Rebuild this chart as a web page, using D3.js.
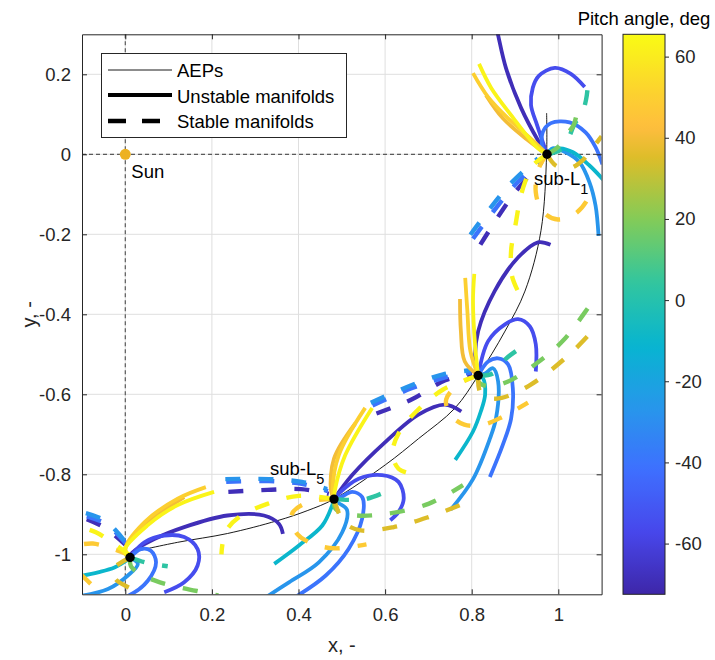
<!DOCTYPE html>
<html>
<head>
<meta charset="utf-8">
<script src="https://cdn.jsdelivr.net/npm/d3@7"></script>
<style>
  html, body { margin: 0; padding: 0; background: #fff; }
  svg { display: block; font-family: "Liberation Sans", Arial, Helvetica, sans-serif; }
</style>
</head>
<body>
<svg id="chart" width="715" height="660"></svg>
<script>
// ---------- data ----------
// family of artificial equilibrium points (thin black curve)
const aepX = [0.012, 0.121, 0.236, 0.351, 0.420, 0.482, 0.601, 0.677, 0.761, 0.815, 0.877, 0.923, 0.960, 0.973, 0.973];
const aepY = [-0.995, -0.970, -0.948, -0.916, -0.891, -0.862, -0.776, -0.711, -0.635, -0.553, -0.442, -0.342, -0.191, 0.000, 0.103];

// highlighted equilibrium points
const eqX = [0.974, 0.815, 0.482, 0.011];
const eqY = [0.000, -0.553, -0.862, -1.008];

const sunX = 0, sunY = 0;

// manifolds: p = pitch angle (deg), pts = [x, y]
const unstableL1 = [
  {p: -69, pts: [[0.974,0.000],[0.953,0.035],[0.914,0.116],[0.879,0.216],[0.859,0.307],[0.852,0.337]]},
  {p: -55, pts: [[0.974,0.000],[0.951,0.073],[0.937,0.123],[0.941,0.166],[0.955,0.196],[0.992,0.216],[1.029,0.201],[1.061,0.168]]},
  {p: -40, pts: [[0.974,0.000],[0.964,0.015],[0.964,0.055],[0.983,0.078],[1.026,0.080],[1.063,0.055],[1.086,0.018],[1.102,-0.025]]},
  {p: -27, pts: [[0.974,0.000],[0.987,0.015],[1.017,0.005],[1.049,-0.020],[1.072,-0.070],[1.086,-0.128],[1.093,-0.204]]},
  {p: -10, pts: [[0.974,0.000],[0.984,0.010],[1.004,0.015],[1.034,0.005],[1.072,-0.028],[1.105,-0.065]]},
  {p: 40,  pts: [[0.974,0.000],[0.930,0.035],[0.872,0.090],[0.833,0.148]]},
  {p: 50,  pts: [[0.974,0.000],[0.941,0.035],[0.884,0.090],[0.838,0.143],[0.803,0.203]]},
  {p: 63,  pts: [[0.974,0.000],[0.953,0.015],[0.891,0.098],[0.845,0.166],[0.817,0.226]]}
];
const stableL1 = [
  {p: 18,  pts: [[0.974,0.000],[0.999,0.018],[1.024,0.055],[1.036,0.075],[1.045,0.116],[1.047,0.136]]},
  {p: 3,   pts: [[0.974,0.000],[1.010,0.015],[1.040,0.080],[1.052,0.093],[1.064,0.136],[1.068,0.168]]},
  {p: 35,  pts: [[0.974,0.000],[0.994,-0.028],[1.026,-0.035],[1.056,-0.015],[1.075,0.010],[1.100,0.045]]},
  {p: 48,  pts: [[0.974,0.000],[0.955,-0.035],[0.948,-0.095],[0.964,-0.143],[0.999,-0.163],[1.040,-0.148],[1.070,-0.108],[1.077,-0.078]]},
  {p: 63,  pts: [[0.974,0.000],[0.941,-0.028],[0.923,-0.070],[0.911,-0.116],[0.902,-0.171],[0.891,-0.241],[0.893,-0.304],[0.909,-0.347]]},
  {p: -27, pts: [[0.797,-0.201],[0.884,-0.080],[0.953,-0.010]]},
  {p: -40, pts: [[0.803,-0.211],[0.889,-0.090],[0.957,-0.015]]},
  {p: -69, pts: [[0.820,-0.226],[0.898,-0.098],[0.962,-0.020]]}
];

const unstableL2 = [
  {p: -69, pts: [[0.815,-0.553],[0.808,-0.510],[0.815,-0.442],[0.853,-0.342],[0.907,-0.258],[0.953,-0.220],[0.982,-0.226]]},
  {p: -55, pts: [[0.815,-0.553],[0.838,-0.467],[0.877,-0.425],[0.907,-0.412],[0.934,-0.430],[0.948,-0.475],[0.948,-0.543]]},
  {p: -40, pts: [[0.815,-0.553],[0.838,-0.518],[0.861,-0.510],[0.884,-0.525],[0.895,-0.585],[0.891,-0.661],[0.872,-0.726],[0.842,-0.807]]},
  {p: -27, pts: [[0.815,-0.553],[0.831,-0.548],[0.849,-0.535],[0.861,-0.568],[0.856,-0.661],[0.842,-0.711],[0.803,-0.812],[0.751,-0.889]]},
  {p: -10, pts: [[0.815,-0.553],[0.826,-0.560],[0.831,-0.601],[0.821,-0.643],[0.803,-0.693],[0.762,-0.764]]},
  {p: 40,  pts: [[0.815,-0.553],[0.784,-0.518],[0.775,-0.442],[0.773,-0.362]]},
  {p: 50,  pts: [[0.815,-0.553],[0.797,-0.492],[0.790,-0.392],[0.785,-0.309]]},
  {p: 63,  pts: [[0.815,-0.553],[0.808,-0.480],[0.803,-0.367],[0.806,-0.299]]}
];
const stableL2 = [
  {p: 18,  pts: [[0.815,-0.553],[0.815,-0.568],[0.838,-0.580],[0.884,-0.568],[0.953,-0.520],[1.010,-0.467],[1.072,-0.379],[1.091,-0.349]]},
  {p: 3,   pts: [[0.815,-0.553],[0.849,-0.548],[0.877,-0.513],[0.902,-0.492]]},
  {p: 35,  pts: [[0.815,-0.553],[0.821,-0.598],[0.856,-0.611],[0.930,-0.580],[1.029,-0.497],[1.091,-0.427]]},
  {p: 48,  pts: [[0.815,-0.553],[0.773,-0.573],[0.741,-0.613],[0.751,-0.651],[0.783,-0.676],[0.826,-0.676],[0.872,-0.656],[0.930,-0.621]]},
  {p: 63,  pts: [[0.815,-0.553],[0.734,-0.588],[0.672,-0.643],[0.631,-0.698],[0.617,-0.749],[0.631,-0.786],[0.661,-0.799]]},
  {p: -27, pts: [[0.567,-0.621],[0.659,-0.578],[0.734,-0.550],[0.797,-0.540]]},
  {p: -40, pts: [[0.571,-0.628],[0.661,-0.585],[0.737,-0.558],[0.799,-0.545]]},
  {p: -69, pts: [[0.580,-0.648],[0.661,-0.613],[0.739,-0.565],[0.801,-0.550]]}
];

const unstableL5 = [
  {p: -69, pts: [[0.482,-0.862],[0.524,-0.802],[0.601,-0.719],[0.677,-0.651],[0.738,-0.626],[0.776,-0.643]]},
  {p: -55, pts: [[0.482,-0.862],[0.493,-0.848],[0.539,-0.811],[0.593,-0.802],[0.631,-0.819],[0.643,-0.861],[0.631,-0.894],[0.612,-0.915]]},
  {p: -40, pts: [[0.482,-0.862],[0.498,-0.857],[0.524,-0.844],[0.547,-0.857],[0.547,-0.911],[0.516,-0.986],[0.463,-1.053],[0.397,-1.104]]},
  {p: -27, pts: [[0.482,-0.862],[0.493,-0.872],[0.512,-0.889],[0.501,-0.945],[0.447,-1.020],[0.378,-1.070],[0.324,-1.108]]},
  {p: -10, pts: [[0.482,-0.862],[0.478,-0.877],[0.455,-0.928],[0.401,-0.978],[0.344,-1.024]]},
  {p: 40,  pts: [[0.482,-0.862],[0.475,-0.840],[0.482,-0.761],[0.531,-0.673]]},
  {p: 50,  pts: [[0.482,-0.862],[0.479,-0.840],[0.493,-0.752],[0.554,-0.634]]},
  {p: 63,  pts: [[0.482,-0.862],[0.484,-0.840],[0.508,-0.752],[0.570,-0.634]]}
];
const stableL5 = [
  {p: 18,  pts: [[0.482,-0.862],[0.486,-0.887],[0.527,-0.902],[0.603,-0.899],[0.700,-0.874],[0.780,-0.827]]},
  {p: 3,   pts: [[0.482,-0.862],[0.516,-0.864],[0.555,-0.862],[0.590,-0.849]]},
  {p: 35,  pts: [[0.482,-0.862],[0.505,-0.920],[0.544,-0.940],[0.620,-0.932],[0.700,-0.907],[0.780,-0.874]]},
  {p: 48,  pts: [[0.482,-0.862],[0.424,-0.869],[0.385,-0.899],[0.394,-0.945],[0.429,-0.972],[0.482,-0.985],[0.557,-0.975]]},
  {p: 63,  pts: [[0.482,-0.862],[0.401,-0.854],[0.328,-0.874],[0.263,-0.907],[0.231,-0.945],[0.222,-1.000]]},
  {p: -27, pts: [[0.231,-0.812],[0.332,-0.812],[0.408,-0.819],[0.466,-0.837]]},
  {p: -40, pts: [[0.233,-0.819],[0.332,-0.817],[0.408,-0.824],[0.468,-0.842]]},
  {p: -69, pts: [[0.238,-0.844],[0.328,-0.839],[0.406,-0.837],[0.470,-0.849]]}
];

const unstableL4 = [
  {p: -69, pts: [[0.011,-1.008],[0.017,-0.995],[0.067,-0.962],[0.136,-0.932],[0.236,-0.903],[0.320,-0.903],[0.355,-0.924],[0.364,-0.949]]},
  {p: -55, pts: [[0.011,-1.008],[0.017,-0.999],[0.044,-0.970],[0.090,-0.953],[0.136,-0.957],[0.167,-0.987],[0.167,-1.028],[0.136,-1.070],[0.090,-1.095]]},
  {p: -40, pts: [[0.011,-1.008],[0.036,-0.987],[0.059,-0.991],[0.071,-1.020],[0.052,-1.066],[0.006,-1.104],[-0.025,-1.112]]},
  {p: -27, pts: [[0.011,-1.008],[0.029,-1.024],[0.006,-1.053],[-0.040,-1.087],[-0.102,-1.104]]},
  {p: -10, pts: [[0.011,-1.008],[0.002,-1.016],[-0.025,-1.033],[-0.063,-1.045],[-0.102,-1.054]]},
  {p: 40,  pts: [[0.011,-1.008],[0.000,-0.987],[0.044,-0.928],[0.090,-0.890],[0.136,-0.857]]},
  {p: 50,  pts: [[0.011,-1.008],[0.000,-0.987],[0.044,-0.920],[0.121,-0.861],[0.186,-0.832]]},
  {p: 63,  pts: [[0.011,-1.008],[-0.002,-0.991],[0.052,-0.927],[0.121,-0.877],[0.205,-0.844]]}
];
const stableL4 = [
  {p: 18,  pts: [[0.011,-1.008],[0.013,-1.030],[0.036,-1.050],[0.080,-1.070],[0.136,-1.085],[0.180,-1.095],[0.215,-1.103]]},
  {p: 3,   pts: [[0.011,-1.008],[0.045,-1.020],[0.068,-1.025],[0.098,-1.030]]},
  {p: 35,  pts: [[0.011,-1.008],[-0.031,-1.040],[-0.022,-1.063],[0.017,-1.088],[0.047,-1.106],[0.068,-1.121]]},
  {p: 48,  pts: [[0.011,-1.003],[-0.024,-0.988],[-0.075,-0.973],[-0.105,-0.976]]},
  {p: 48,  pts: [[-0.105,-1.048],[-0.070,-1.085],[-0.050,-1.112]]},
  {p: 63,  pts: [[0.011,-1.003],[-0.031,-0.970],[-0.068,-0.945],[-0.105,-0.932]]},
  {p: -27, pts: [[-0.091,-0.897],[-0.045,-0.917],[0.001,-0.970]]},
  {p: -40, pts: [[-0.089,-0.905],[-0.043,-0.925],[0.003,-0.975]]},
  {p: -69, pts: [[-0.089,-0.912],[-0.045,-0.935],[0.006,-0.982]]}
];

// axis ticks
const xTicks = [0, 0.2, 0.4, 0.6, 0.8, 1];
const yTicks = [0.2, 0, -0.2, -0.4, -0.6, -0.8, -1];
const cbTicks = [60, 40, 20, 0, -20, -40, -60];
const pitchRange = [-72.5, 65.5];

// parula colormap stops
const parulaStops = [
  [0.000, [0.2422,0.1504,0.6603]],
  [0.111, [0.2803,0.2782,0.9221]],
  [0.222, [0.2440,0.4358,0.9988]],
  [0.333, [0.1540,0.5902,0.9218]],
  [0.444, [0.0297,0.7082,0.8163]],
  [0.556, [0.1938,0.7758,0.6251]],
  [0.667, [0.5044,0.7993,0.3480]],
  [0.778, [0.8634,0.7406,0.1596]],
  [0.833, [0.9956,0.7411,0.2434]],
  [0.889, [0.9892,0.8136,0.1885]],
  [1.000, [0.9769,0.9839,0.0805]]
];

// ---------- layout ----------
const svg = d3.select("#chart");
const box = {left: 82, right: 601.6, top: 34.3, bottom: 594.3};
const ink = "#262626";

const x = d3.scaleLinear().domain([-0.1, 1.1]).range([box.left, box.right]);
const y = d3.scaleLinear().domain([-1.1, 0.3]).range([box.bottom, box.top]);

const color = d3.scaleLinear()
  .domain(parulaStops.map(s => pitchRange[0] + s[0] * (pitchRange[1] - pitchRange[0])))
  .range(parulaStops.map(s => d3.rgb(s[1][0] * 255, s[1][1] * 255, s[1][2] * 255)))
  .interpolate(d3.interpolateRgb)
  .clamp(true);

svg.append("rect").attr("width", 715).attr("height", 660).attr("fill", "#fff");

svg.append("defs").append("clipPath").attr("id", "plotClip")
  .append("rect")
  .attr("x", box.left).attr("y", box.top)
  .attr("width", box.right - box.left).attr("height", box.bottom - box.top);

// grid
const grid = svg.append("g").attr("stroke", "#dfdfdf").attr("stroke-width", 1);
grid.selectAll(".gx").data(xTicks).enter().append("line")
  .attr("x1", d => x(d)).attr("x2", d => x(d))
  .attr("y1", box.top).attr("y2", box.bottom);
grid.selectAll(".gy").data(yTicks).enter().append("line")
  .attr("x1", box.left).attr("x2", box.right)
  .attr("y1", d => y(d)).attr("y2", d => y(d));

const plot = svg.append("g").attr("clip-path", "url(#plotClip)");

// dashed guides through the Sun
plot.append("line")
  .attr("x1", x(sunX)).attr("x2", x(sunX)).attr("y1", box.top).attr("y2", box.bottom)
  .attr("stroke", "#5a5a5a").attr("stroke-width", 1.2).attr("stroke-dasharray", "4,3");
plot.append("line")
  .attr("x1", box.left).attr("x2", box.right).attr("y1", y(sunY)).attr("y2", y(sunY))
  .attr("stroke", "#5a5a5a").attr("stroke-width", 1.2).attr("stroke-dasharray", "4,3");

// AEP family
const aepPts = aepX.map((v, i) => [v, aepY[i]]);
const smooth = d3.line().x(d => x(d[0])).y(d => y(d[1])).curve(d3.curveCatmullRom.alpha(0.5));
plot.append("path").attr("d", smooth(aepPts))
  .attr("fill", "none").attr("stroke", "#000").attr("stroke-width", 0.9);

// manifolds, drawn in order of pitch angle
const curves = []
  .concat(unstableL1.map(d => ({...d, dashed: false})))
  .concat(stableL1.map(d => ({...d, dashed: true})))
  .concat(unstableL2.map(d => ({...d, dashed: false})))
  .concat(stableL2.map(d => ({...d, dashed: true})))
  .concat(unstableL5.map(d => ({...d, dashed: false})))
  .concat(stableL5.map(d => ({...d, dashed: true})))
  .concat(unstableL4.map(d => ({...d, dashed: false})))
  .concat(stableL4.map(d => ({...d, dashed: true})));
curves.sort((a, b) => a.p - b.p);

plot.selectAll(".manifold").data(curves).enter().append("path")
  .attr("class", "manifold")
  .attr("d", d => smooth(d.pts))
  .attr("fill", "none")
  .attr("stroke", d => color(d.p))
  .attr("stroke-width", d => d.dashed ? 4.4 : 3.8)
  .attr("stroke-dasharray", d => d.dashed ? "15,18" : null)
  .attr("stroke-linecap", "butt")
  .attr("stroke-linejoin", "round");

// equilibrium points and Sun
plot.selectAll(".eq").data(eqX.map((v, i) => [v, eqY[i]])).enter().append("circle")
  .attr("cx", d => x(d[0])).attr("cy", d => y(d[1])).attr("r", 4.7).attr("fill", "#000");
plot.append("circle").attr("cx", x(sunX)).attr("cy", y(sunY)).attr("r", 5.5).attr("fill", "#EDB120");

// text labels
const labelFont = 18.5;
svg.append("text").attr("x", x(sunX) + 6).attr("y", y(sunY) + 23.5)
  .attr("font-size", labelFont).attr("fill", "#000").text("Sun");

function subLabel(px, py, main, sub) {
  const t = svg.append("text").attr("x", px).attr("y", py).attr("font-size", labelFont).attr("fill", "#000");
  t.append("tspan").text(main);
  t.append("tspan").attr("font-size", 14.5).attr("dy", 9).text(sub);
}
subLabel(x(eqX[0]) - 13, y(eqY[0]) + 31, "sub-L", "1");
subLabel(x(eqX[2]) - 64, y(eqY[2]) - 24.5, "sub-L", "5");

// axes box and ticks
const axesG = svg.append("g");
function styleAxis(g) {
  g.selectAll("path.domain").attr("stroke", ink).attr("stroke-width", 1);
  g.selectAll(".tick line").attr("stroke", ink).attr("stroke-width", 1);
  g.selectAll(".tick text").attr("fill", ink).attr("font-size", 18.5)
    .attr("font-family", "'Liberation Sans', Arial, Helvetica, sans-serif");
}
axesG.append("g").attr("transform", `translate(0,${box.bottom})`)
  .call(d3.axisBottom(x).tickValues(xTicks).tickSize(-5).tickSizeOuter(0).tickPadding(14).tickFormat(d => String(d)))
  .call(styleAxis);
axesG.append("g").attr("transform", `translate(0,${box.top})`)
  .call(d3.axisTop(x).tickValues(xTicks).tickSize(-5).tickSizeOuter(0).tickFormat(""))
  .call(styleAxis);
axesG.append("g").attr("transform", `translate(${box.left},0)`)
  .call(d3.axisLeft(y).tickValues(yTicks).tickSize(-5).tickSizeOuter(0).tickPadding(11).tickFormat(d => String(d)))
  .call(styleAxis);
axesG.append("g").attr("transform", `translate(${box.right},0)`)
  .call(d3.axisRight(y).tickValues(yTicks).tickSize(-5).tickSizeOuter(0).tickFormat(""))
  .call(styleAxis);
axesG.selectAll(".tick text").attr("font-size", 18.5);

// axis titles
svg.append("text").attr("x", (box.left + box.right) / 2).attr("y", 652)
  .attr("text-anchor", "middle").attr("font-size", 20).attr("fill", ink).text("x, -");
svg.append("text").attr("transform", `translate(36,${(box.top + box.bottom) / 2}) rotate(-90)`)
  .attr("text-anchor", "middle").attr("font-size", 20).attr("fill", ink).text("y, -");

// legend
const lg = svg.append("g");
lg.append("rect").attr("x", 101.5).attr("y", 53.5).attr("width", 245).attr("height", 84)
  .attr("fill", "#fff").attr("stroke", ink).attr("stroke-width", 1);
const legendRows = [
  {label: "AEPs", width: 0.9, dash: null, ly: 70, ty: 76.5},
  {label: "Unstable manifolds", width: 4.2, dash: null, ly: 95, ty: 102.5},
  {label: "Stable manifolds", width: 4.4, dash: "18,16", ly: 121, ty: 128}
];
legendRows.forEach(r => {
  lg.append("line").attr("x1", 108).attr("x2", r.dash ? 160 : 172).attr("y1", r.ly).attr("y2", r.ly)
    .attr("stroke", "#000").attr("stroke-width", r.width)
    .attr("stroke-dasharray", r.dash);
  lg.append("text").attr("x", 177).attr("y", r.ty).attr("font-size", labelFont).attr("fill", "#000").text(r.label);
});

// colorbar
const cb = {left: 623, right: 665, top: box.top, bottom: box.bottom};
const cScale = d3.scaleLinear().domain(pitchRange).range([cb.bottom, cb.top]);
const grad = svg.select("defs").append("linearGradient").attr("id", "cbGrad")
  .attr("x1", 0).attr("y1", 1).attr("x2", 0).attr("y2", 0);
d3.range(0, 65).forEach(i => {
  const t = i / 64;
  grad.append("stop").attr("offset", t)
    .attr("stop-color", color(pitchRange[0] + t * (pitchRange[1] - pitchRange[0])));
});
svg.append("rect").attr("x", cb.left).attr("y", cb.top)
  .attr("width", cb.right - cb.left).attr("height", cb.bottom - cb.top)
  .attr("fill", "url(#cbGrad)").attr("stroke", ink).attr("stroke-width", 1);
svg.append("g").attr("transform", `translate(${cb.right},0)`)
  .call(d3.axisRight(cScale).tickValues(cbTicks).tickSize(4).tickSizeOuter(0).tickPadding(6).tickFormat(d => String(d)))
  .call(g => g.select("path.domain").remove())
  .call(styleAxis);
svg.append("text").attr("x", (cb.left + cb.right) / 2).attr("y", 25)
  .attr("text-anchor", "middle").attr("font-size", labelFont).attr("fill", "#000").text("Pitch angle, deg");
</script>
</body>
</html>
